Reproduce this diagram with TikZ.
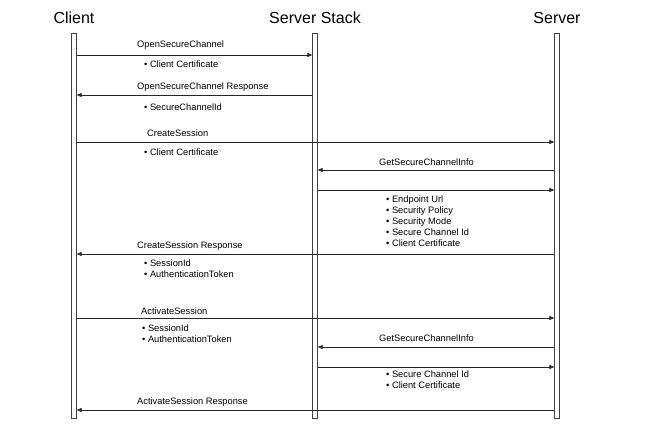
\documentclass[tikz,border=0pt]{standalone}
\usepackage{fontspec}
\setmainfont{Liberation Sans}
\usetikzlibrary{arrows.meta,positioning,calc}

\begin{document}
\begin{tikzpicture}[x=1pt,y=-1pt,every node/.style={font=\fontsize{9.3}{11}\selectfont,inner sep=0pt}]
  \tikzset{
    head/.style={font=\fontsize{16}{18}\selectfont},
    bar/.style={draw=black!75,line width=0.8pt,fill=white,minimum width=4.5pt,minimum height=385pt,anchor=north},
    msg/.style={draw=black!85,line width=0.7pt,-{Triangle[length=5pt,width=4pt]}},
    lbl/.style={anchor=west},
    items/.style={anchor=north west,align=left},
  }
  \useasboundingbox (0,0) rectangle (645,435);
  % Participants
  \node[head] (client) at (74,18) {Client};
  \node[head] (stack) at (315,18) {Server Stack};
  \node[head] (server) at (557,18) {Server};
  % Life lines
  \node[bar] (cbar) at (74,33) {};
  \node[bar] (sbar) at (315,33) {};
  \node[bar] (vbar) at (557,33) {};
  % OpenSecureChannel
  \draw[msg] (cbar.east |- 0,55) -- (sbar.west |- 0,55);
  \node[lbl] (osc) at (137,45) {OpenSecureChannel};
  \node[lbl] (osc-p) at (144,64) {• Client Certificate};
  \draw[msg] (sbar.west |- 0,95) -- (cbar.east |- 0,95);
  \node[lbl] (oscr) at (137,87) {OpenSecureChannel Response};
  \node[lbl] (oscr-p) at (144,107) {• SecureChannelId};
  % CreateSession
  \draw[msg] (cbar.east |- 0,142) -- (vbar.west |- 0,142);
  \node[lbl] (cs) at (147,133) {CreateSession};
  \node[lbl] (cs-p) at (144,152) {• Client Certificate};
  \draw[msg] (vbar.west |- 0,170) -- (sbar.east |- 0,170);
  \node[lbl] (gsci) at (379,162) {GetSecureChannelInfo};
  \draw[msg] (sbar.east |- 0,190) -- (vbar.west |- 0,190);
  \node[items] (gsci-p) at (386,195.5) {• Endpoint Url\\• Security Policy\\• Security Mode\\• Secure Channel Id\\• Client Certificate};
  \draw[msg] (vbar.west |- 0,254) -- (cbar.east |- 0,254);
  \node[lbl] (csr) at (137,246) {CreateSession Response};
  \node[items] (csr-p) at (144,259.5) {• SessionId\\• AuthenticationToken};
  % ActivateSession
  \draw[msg] (cbar.east |- 0,318) -- (vbar.west |- 0,318);
  \node[lbl] (as) at (141,311) {ActivateSession};
  \node[items] (as-p) at (142,325) {• SessionId\\• AuthenticationToken};
  \draw[msg] (vbar.west |- 0,347) -- (sbar.east |- 0,347);
  \node[lbl] (gsci2) at (379,338) {GetSecureChannelInfo};
  \draw[msg] (sbar.east |- 0,367) -- (vbar.west |- 0,367);
  \node[items] (gsci2-p) at (386,371) {• Secure Channel Id\\• Client Certificate};
  \draw[msg] (vbar.west |- 0,410) -- (cbar.east |- 0,410);
  \node[lbl] (asr) at (137,402) {ActivateSession Response};
\end{tikzpicture}
\end{document}
